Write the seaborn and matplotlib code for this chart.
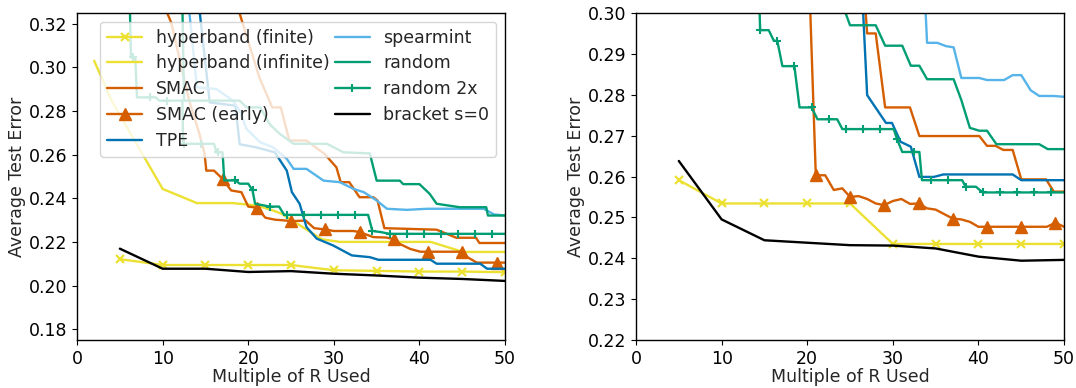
import matplotlib
matplotlib.use("Agg")
import matplotlib.pyplot as plt
import seaborn as sns

# ---------------- data: left panel ----------------
left_hb_fin_x = [5, 10, 15, 20, 25, 30, 35, 40, 45, 50]
left_hb_fin_y = [0.2121, 0.2094, 0.2094, 0.2094, 0.2094, 0.2070, 0.2067, 0.2064, 0.2064, 0.2061]

left_hb_inf_x = [2.0, 4.1, 10.0, 14.0, 18.2, 21.0, 22.9, 23.9, 28.6, 30.7, 41.3, 45.1, 50.0]
left_hb_inf_y = [0.3031, 0.2843, 0.2443, 0.2378, 0.2378, 0.2367, 0.2344, 0.2329, 0.2212, 0.2200,
                 0.2200, 0.2154, 0.2154]

left_smac_x = [17.8, 21.3, 22.8, 23.8, 24.8, 26.8, 28.9, 30.3, 30.8, 31.8, 33.0, 34.6, 35.1,
               35.9, 42.0, 44.3, 46.6, 47.0, 50.0]
left_smac_y = [0.3400, 0.2954, 0.2817, 0.2817, 0.2665, 0.2665, 0.2604, 0.2542, 0.2474, 0.2474,
               0.2405, 0.2405, 0.2390, 0.2263, 0.2256, 0.2219, 0.2219, 0.2195, 0.2195]

left_smac_early_x = [10.0, 11.0, 13.1, 14.3, 14.9, 15.1, 16.0, 17.0, 18.0, 19.2, 20.0, 21.0, 22.0,
                     23.1, 24.4, 25.0, 26.7, 27.7, 29.0, 30.0, 32.3, 33.0, 34.6, 36.1, 37.0, 37.7,
                     38.9, 40.1, 41.0, 44.8, 45.0, 45.6, 46.7, 49.0, 50.0]
left_smac_early_y = [0.3300, 0.3206, 0.2848, 0.2695, 0.2604, 0.2527, 0.2527, 0.2489, 0.2436, 0.2428,
                     0.2362, 0.2357, 0.2311, 0.2302, 0.2298, 0.2295, 0.2298, 0.2263, 0.2257, 0.2250,
                     0.2250, 0.2245, 0.2222, 0.2220, 0.2213, 0.2191, 0.2168, 0.2155, 0.2155, 0.2155,
                     0.2155, 0.2130, 0.2105, 0.2105, 0.2105]
left_smac_early_marks = [17.0, 21.0, 25.0, 29.0, 33.0, 37.0, 41.0, 45.0, 49.0]

left_tpe_x = [14.2, 15.5, 18.5, 19.0, 21.0, 23.1, 24.5, 25.1, 26.0, 26.8, 28.0, 29.9, 32.1, 34.2,
              35.2, 41.3, 42.0, 47.1, 47.9, 50.0]
left_tpe_y = [0.3300, 0.2840, 0.2825, 0.2648, 0.2633, 0.2611, 0.2527, 0.2428, 0.2375, 0.2268,
              0.2215, 0.2184, 0.2138, 0.2130, 0.2118, 0.2118, 0.2100, 0.2100, 0.2077, 0.2077]

left_spear_x = [13.0, 14.0, 16.3, 18.2, 19.0, 19.8, 21.4, 22.9, 24.5, 25.3, 26.8, 28.8, 30.7, 32.3,
                33.5, 35.0, 36.2, 38.5, 40.9, 47.5, 48.7, 50.0]
left_spear_y = [0.3300, 0.2909, 0.2901, 0.2848, 0.2802, 0.2718, 0.2657, 0.2634, 0.2581, 0.2535,
                0.2535, 0.2481, 0.2474, 0.2443, 0.2428, 0.2390, 0.2352, 0.2347, 0.2352, 0.2352,
                0.2326, 0.2321]

left_rand_x = [12.3, 12.5, 19.0, 19.8, 21.4, 22.5, 23.7, 25.3, 29.2, 31.1, 34.2, 35.0, 37.7, 38.1,
               40.0, 41.2, 42.0, 44.7, 47.8, 48.0, 50.0]
left_rand_y = [0.3300, 0.2848, 0.2848, 0.2817, 0.2817, 0.2740, 0.2695, 0.2650, 0.2650, 0.2611,
               0.2606, 0.2481, 0.2481, 0.2465, 0.2465, 0.2420, 0.2375, 0.2359, 0.2359, 0.2321,
               0.2321]

left_rand2_x = [6.1, 6.3, 6.5, 6.8, 7.0, 8.5, 9.2, 9.6, 10.5, 12.3, 12.4, 12.5, 14.5, 16.0, 16.3,
                16.5, 17.0, 17.2, 18.5, 19.0, 20.0, 20.5, 20.8, 22.5, 23.6, 24.2, 24.5, 26.5, 28.5,
                30.5, 32.5, 34.0, 34.5, 35.5, 36.5, 38.5, 40.5, 42.5, 44.5, 46.5, 48.5, 50.0]
left_rand2_y = [0.3400, 0.3046, 0.3046, 0.3046, 0.2863, 0.2863, 0.2863, 0.2848, 0.2848, 0.2848,
                0.2650, 0.2650, 0.2650, 0.2650, 0.2611, 0.2611, 0.2611, 0.2482, 0.2482, 0.2467,
                0.2467, 0.2436, 0.2375, 0.2362, 0.2362, 0.2324, 0.2324, 0.2324, 0.2324, 0.2324,
                0.2324, 0.2324, 0.2250, 0.2245, 0.2237, 0.2237, 0.2237, 0.2237, 0.2237, 0.2237,
                0.2237, 0.2237]
left_rand2_marks = [6.5, 8.5, 10.5, 12.5, 14.5, 16.5, 18.5, 20.5, 22.5, 24.5, 26.5, 28.5, 30.5,
                    32.5, 34.5, 36.5, 38.5, 40.5, 42.5, 44.5, 46.5, 48.5]

left_bracket_x = [5, 10, 15, 20, 25, 30, 35, 40, 45, 50]
left_bracket_y = [0.2169, 0.2077, 0.2077, 0.2062, 0.2066, 0.2054, 0.2046, 0.2036, 0.2030, 0.2021]

# ---------------- data: right panel ----------------
right_hb_fin_x = [5, 10, 15, 20, 25, 30, 35, 40, 45, 50]
right_hb_fin_y = [0.2591, 0.2534, 0.2534, 0.2534, 0.2534, 0.2435, 0.2435, 0.2435, 0.2435, 0.2435]

right_smac_x = [26.5, 27.0, 28.0, 29.1, 32.0, 33.1, 40.1, 41.0, 42.0, 42.9, 44.0, 45.0, 47.9, 48.8, 50.0]
right_smac_y = [0.3100, 0.2950, 0.2950, 0.2769, 0.2769, 0.2699, 0.2699, 0.2675, 0.2675, 0.2665,
                0.2665, 0.2593, 0.2593, 0.2563, 0.2563]

right_smac_early_x = [20.2, 21.0, 22.1, 23.1, 24.1, 25.0, 26.0, 27.0, 28.0, 29.0, 30.0, 31.0, 32.0,
                      33.0, 34.0, 35.0, 36.0, 37.0, 38.0, 39.0, 40.0, 41.0, 45.0, 48.0, 49.0, 50.0]
right_smac_early_y = [0.3100, 0.2603, 0.2603, 0.2567, 0.2571, 0.2550, 0.2552, 0.2545, 0.2534, 0.2530,
                      0.2540, 0.2545, 0.2533, 0.2534, 0.2522, 0.2519, 0.2508, 0.2497, 0.2495, 0.2489,
                      0.2477, 0.2477, 0.2477, 0.2477, 0.2487, 0.2477]
right_smac_early_marks = [21.0, 25.0, 29.0, 33.0, 37.0, 41.0, 45.0, 49.0]

right_tpe_x = [26.3, 27.0, 29.2, 29.9, 30.9, 32.1, 33.1, 34.8, 35.9, 44.0, 45.0, 50.0]
right_tpe_y = [0.3100, 0.2799, 0.2731, 0.2731, 0.2685, 0.2673, 0.2599, 0.2599, 0.2605, 0.2605,
               0.2591, 0.2591]

right_spear_x = [33.6, 34.0, 35.2, 36.2, 37.1, 38.0, 40.1, 41.0, 43.0, 44.0, 45.0, 46.1, 47.1, 48.8, 50.0]
right_spear_y = [0.3100, 0.2927, 0.2927, 0.2919, 0.2916, 0.2841, 0.2841, 0.2836, 0.2836, 0.2848,
                 0.2848, 0.2811, 0.2797, 0.2797, 0.2795]

right_rand_x = [23.6, 25.0, 28.0, 29.1, 31.1, 32.1, 33.1, 34.0, 37.1, 38.0, 39.0, 40.1, 41.0, 42.1,
                47.1, 48.1, 50.0]
right_rand_y = [0.3050, 0.2970, 0.2970, 0.2920, 0.2920, 0.2871, 0.2871, 0.2838, 0.2838, 0.2787,
                0.2719, 0.2712, 0.2712, 0.2679, 0.2679, 0.2667, 0.2667]

right_rand2_x = [14.3, 14.5, 15.5, 16.1, 16.5, 17.1, 18.5, 19.1, 20.5, 21.2, 22.5, 23.5, 24.1, 24.5,
                 26.5, 28.5, 30.1, 30.5, 31.1, 32.5, 33.1, 33.4, 34.5, 36.5, 38.1, 38.5, 39.7, 40.5,
                 42.5, 44.5, 46.5, 48.5, 50.0]
right_rand2_y = [0.3100, 0.2958, 0.2958, 0.2932, 0.2932, 0.2870, 0.2870, 0.2769, 0.2769, 0.2740,
                 0.2740, 0.2740, 0.2716, 0.2716, 0.2716, 0.2716, 0.2716, 0.2691, 0.2660, 0.2660,
                 0.2660, 0.2591, 0.2591, 0.2591, 0.2591, 0.2575, 0.2575, 0.2561, 0.2561, 0.2561,
                 0.2561, 0.2561, 0.2561]
right_rand2_marks = [14.5, 16.5, 18.5, 20.5, 22.5, 24.5, 26.5, 28.5, 30.5, 32.5, 34.5, 36.5, 38.5,
                     40.5, 42.5, 44.5, 46.5, 48.5]

right_bracket_x = [5, 10, 15, 20, 25, 30, 35, 40, 45, 50]
right_bracket_y = [0.2638, 0.2495, 0.2444, 0.2438, 0.2432, 0.2431, 0.2424, 0.2404, 0.2394, 0.2396]

# ---------------- style ----------------
sns.set_style("ticks")
plt.rcParams["font.family"] = ["DejaVu Sans"]
FS = 12.5
plt.rcParams.update({
    "font.size": FS,
    "axes.labelsize": FS,
    "xtick.labelsize": FS,
    "ytick.labelsize": FS,
    "legend.fontsize": FS,
    "axes.edgecolor": "black",
    "axes.linewidth": 1.0,
    "xtick.color": "black",
    "ytick.color": "black",
    "xtick.major.size": 3.5,
    "ytick.major.size": 3.5,
    "xtick.major.width": 0.8,
    "ytick.major.width": 0.8,
})

pal = sns.color_palette("colorblind")
C_YEL, C_ORA, C_BLU, C_LBL, C_GRN = pal[8], pal[3], pal[0], pal[9], pal[2]
LW = 1.7


def draw(ax, xs, ys, label, color, marker=None, marks=None, ms=7, mew=1.6):
    kw = dict(x=xs, y=ys, ax=ax, color=color, lw=LW, label=label,
              sort=False, estimator=None)
    if marker is not None:
        idx = list(range(len(xs))) if marks is None else [xs.index(m) for m in marks]
        kw.update(marker=marker, markevery=idx, markersize=ms,
                  markeredgecolor=color, markerfacecolor=color, markeredgewidth=mew)
    sns.lineplot(**kw)


fig = plt.figure(figsize=(10.76, 3.88), dpi=100)
axL = fig.add_axes([0.0716, 0.1237, 0.3978, 0.8428])
axR = fig.add_axes([0.5911, 0.1237, 0.3978, 0.8428])

# left panel
draw(axL, left_hb_fin_x, left_hb_fin_y, "hyperband (finite)", C_YEL, marker="x", ms=6)
draw(axL, left_hb_inf_x, left_hb_inf_y, "hyperband (infinite)", C_YEL)
draw(axL, left_smac_x, left_smac_y, "SMAC", C_ORA)
draw(axL, left_smac_early_x, left_smac_early_y, "SMAC (early)", C_ORA, marker="^",
     marks=left_smac_early_marks, ms=8, mew=1.0)
draw(axL, left_tpe_x, left_tpe_y, "TPE", C_BLU)
draw(axL, left_spear_x, left_spear_y, "spearmint", C_LBL)
draw(axL, left_rand_x, left_rand_y, "random", C_GRN)
draw(axL, left_rand2_x, left_rand2_y, "random 2x", C_GRN, marker="+",
     marks=left_rand2_marks, ms=6, mew=1.5)
draw(axL, left_bracket_x, left_bracket_y, "bracket s=0", "black")

# right panel
draw(axR, right_hb_fin_x, right_hb_fin_y, "hyperband (finite)", C_YEL, marker="x", ms=6)
draw(axR, right_smac_x, right_smac_y, "SMAC", C_ORA)
draw(axR, right_smac_early_x, right_smac_early_y, "SMAC (early)", C_ORA, marker="^",
     marks=right_smac_early_marks, ms=8, mew=1.0)
draw(axR, right_tpe_x, right_tpe_y, "TPE", C_BLU)
draw(axR, right_spear_x, right_spear_y, "spearmint", C_LBL)
draw(axR, right_rand_x, right_rand_y, "random", C_GRN)
draw(axR, right_rand2_x, right_rand2_y, "random 2x", C_GRN, marker="+",
     marks=right_rand2_marks, ms=6, mew=1.5)
draw(axR, right_bracket_x, right_bracket_y, "bracket s=0", "black")

axL.set_xlim(0, 50)
axL.set_ylim(0.175, 0.325)
axL.set_yticks([0.18, 0.20, 0.22, 0.24, 0.26, 0.28, 0.30, 0.32])
axR.set_xlim(0, 50)
axR.set_ylim(0.22, 0.30)
axR.set_yticks([0.22, 0.23, 0.24, 0.25, 0.26, 0.27, 0.28, 0.29, 0.30])

for ax in (axL, axR):
    ax.set_xticks([0, 10, 20, 30, 40, 50])
    ax.set_xlabel("Multiple of R Used", labelpad=0)
    ax.set_ylabel("Average Test Error", labelpad=2)
    ax.yaxis.set_major_formatter(matplotlib.ticker.FormatStrFormatter("%.2f"))
    for s in ax.spines.values():
        s.set_visible(True)

if axR.get_legend() is not None:
    axR.get_legend().remove()
handles, labels = axL.get_legend_handles_labels()
axL.legend(handles, labels, ncol=2, loc="upper right", columnspacing=0.3,
           labelspacing=0.45, framealpha=0.8)

fig.savefig("out.png", dpi=100)
